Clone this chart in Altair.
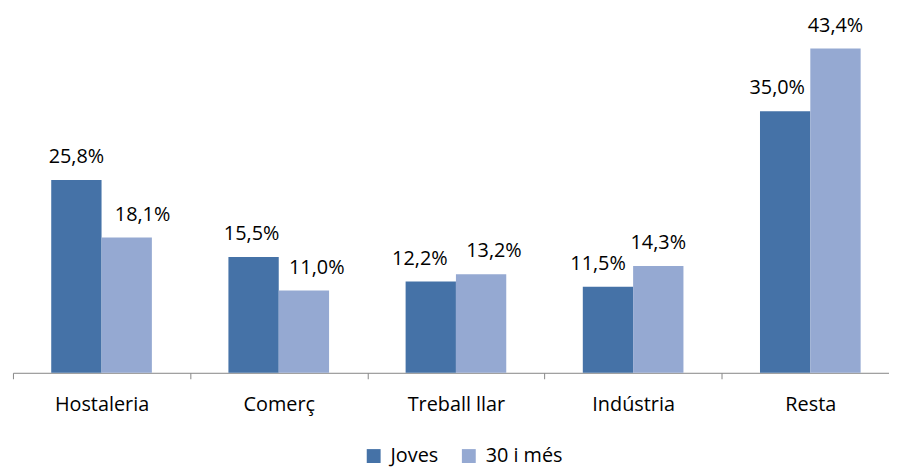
import altair as alt
import pandas as pd

categories = ["Hostaleria", "Comerç", "Treball llar", "Indústria", "Resta"]
series = ["Joves", "30 i més"]
joves = [25.8, 15.5, 12.2, 11.5, 35.0]
grans = [18.1, 11.0, 13.2, 14.3, 43.4]

# horizontal nudges of the value labels (pixels), as placed in the original
nudge_joves = [0, -2, -11, -10, -8]
nudge_grans = [16, 13, 13, 0, 0]

rows = []
for i, (c, a, b) in enumerate(zip(categories, joves, grans)):
    rows.append({"cat": c, "serie": series[0], "val": a, "lab": f"{a:.1f}%".replace(".", ","), "k": i * 2})
    rows.append({"cat": c, "serie": series[1], "val": b, "lab": f"{b:.1f}%".replace(".", ","), "k": i * 2 + 1})
df = pd.DataFrame(rows)
nudges = []
for a, b in zip(nudge_joves, nudge_grans):
    nudges += [a, b]

FONT = "Open Sans"
colors = ["#4572A7", "#95A9D2"]
RANGE = 894
HALF = RANGE / len(categories) / 2

x = alt.X("cat:N", sort=categories, title=None,
          scale=alt.Scale(range=[0, RANGE], paddingInner=0.432, paddingOuter=0.216),
          axis=alt.Axis(labelAngle=0, labelFont=FONT, labelFontSize=20, labelColor="#000000",
                        domainColor="#868686", tickColor="#868686", tickSize=6,
                        tickOffset=-HALF, labelOffset=HALF, labelPadding=16, labelLimit=300))
xo = alt.XOffset("serie:N", sort=series, scale=alt.Scale(paddingInner=0, paddingOuter=0))
y = alt.Y("val:Q", scale=alt.Scale(domain=[0, 48], nice=False), axis=None)

bars = alt.Chart(df).mark_bar().encode(
    x=x, xOffset=xo, y=y,
    color=alt.Color("serie:N", sort=series, scale=alt.Scale(domain=series, range=colors),
                    legend=alt.Legend(title=None, orient="none", direction="horizontal",
                                      legendX=354, legendY=436, symbolType="square",
                                      symbolSize=196, symbolStrokeWidth=0, padding=0,
                                      labelFont=FONT, labelFontSize=20, labelColor="#000000",
                                      labelOffset=7, columnPadding=20, symbolOffset=0)),
)

layers = [bars]
for d in sorted(set(nudges)):
    ks = [k for k, n in enumerate(nudges) if n == d]
    layers.append(
        alt.Chart(df).transform_filter(alt.FieldOneOfPredicate(field="k", oneOf=ks))
        .mark_text(baseline="alphabetic", dy=-17, dx=d, font=FONT, fontSize=20, color="#000000")
        .encode(x=x, xOffset=xo, y=y, text="lab:N")
    )

chart = alt.layer(*layers).properties(
    width=884, height=362,
    padding={"left": 5, "top": 4, "right": 0, "bottom": 98},
    autosize=alt.AutoSizeParams(type="none"),
).configure_view(stroke=None)

chart.save("out.html", embed_options={"renderer": "svg", "actions": False})
